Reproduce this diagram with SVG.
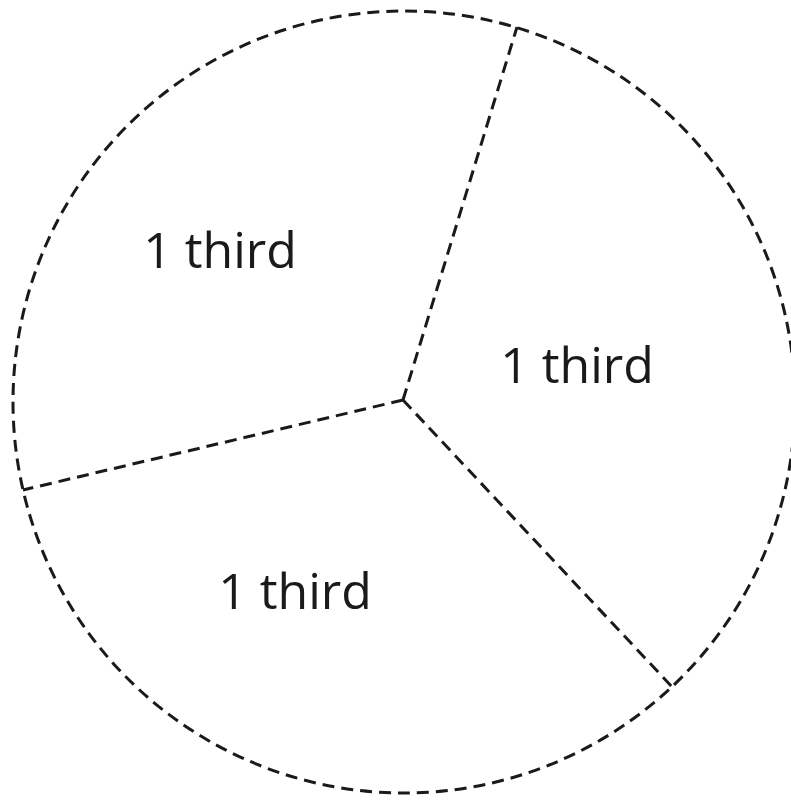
<svg xmlns="http://www.w3.org/2000/svg" width="791" height="801" viewBox="0 0 791 801">
<style>
.d{fill:none;stroke:#1a1a1a;stroke-width:3;stroke-dasharray:12 7}
.t{font-family:"Open Sans","Liberation Sans",sans-serif;font-size:50px;fill:#1a1a1a;text-anchor:middle}
</style>
<rect width="791" height="801" fill="#fff"/>
<g id="circle"><circle class="d" cx="404" cy="402" r="391"/></g>
<g id="connectors">
<line class="d" x1="403" y1="400" x2="517" y2="27"/>
<line class="d" x1="403" y1="400" x2="23" y2="490"/>
<line class="d" x1="403" y1="400" x2="675" y2="690"/>
</g>
<g id="label1"><text class="t" x="220" y="268">1 third</text></g>
<g id="label2"><text class="t" x="577" y="383">1 third</text></g>
<g id="label3"><text class="t" x="295" y="609">1 third</text></g>
</svg>
